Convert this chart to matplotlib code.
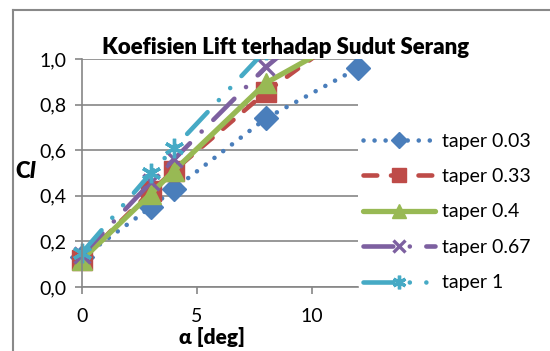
"""Lift coefficient vs angle of attack for several taper ratios."""

import matplotlib
matplotlib.use("Agg")
import matplotlib.pyplot as plt
from matplotlib.lines import Line2D
from matplotlib.ticker import FuncFormatter, MultipleLocator
from matplotlib.transforms import Bbox, TransformedBbox

plt.rcParams["font.family"] = ["Lato", "DejaVu Sans"]

# angle of attack [deg] and Cl for each taper ratio
alpha_003 = [0, 3, 4, 8, 12]
cl_003 = [0.13, 0.35, 0.43, 0.74, 0.96]

alpha_033 = [0, 3, 4, 8, 12]
cl_033 = [0.12, 0.42, 0.51, 0.855, 1.15]

alpha_04 = [0, 3, 4, 8, 12]
cl_04 = [0.12, 0.41, 0.51, 0.895, 1.12]

alpha_067 = [0, 3, 4, 8, 12]
cl_067 = [0.14, 0.46, 0.56, 0.965, 1.30]

alpha_1 = [0, 3, 4, 8]
cl_1 = [0.15, 0.50, 0.61, 1.04]

labels = ["taper 0.03", "taper 0.33", "taper 0.4", "taper 0.67", "taper 1"]

GRID = "#868686"

fig = plt.figure(figsize=(5.5, 3.51), dpi=100)
ax = fig.add_axes([82 / 550, 1 - 287 / 351, 276 / 550, 228 / 351])

LW = 3.3
series = [
    (alpha_003, cl_003, dict(color="#4A7EBB", marker="D", ms=12,
                             linestyle=(0, (0.01, 2.4)), dash_capstyle="round")),
    (alpha_033, cl_033, dict(color="#BE4B48", marker="s", ms=14,
                             linestyle=(0, (3.0, 3.0)), dash_capstyle="round")),
    (alpha_04, cl_04, dict(color="#98B954", marker="^", ms=15,
                           linestyle="-", solid_capstyle="round", lw=3.8)),
    (alpha_067, cl_067, dict(color="#7D60A0", marker="x", ms=12, mew=2.4,
                             linestyle=(0, (6.5, 3.6, 0.01, 3.6)), dash_capstyle="round")),
    (alpha_1, cl_1, dict(color="#46AAC5", marker=(6, 2, 0), ms=14, mew=2.4,
                         linestyle=(0, (6.5, 3.6, 0.01, 3.6, 0.01, 3.6)),
                         dash_capstyle="round")),
]

# let markers on the plot edges show fully, but cut lines at Cl = 1.0
clip = TransformedBbox(Bbox([[-0.06, -0.06], [1.06, 1.0]]), ax.transAxes)
handles = []
for (x, y, kw), lab in zip(series, labels):
    kw.setdefault("lw", LW)
    (ln,) = ax.plot(x, y, label=lab, **kw)
    ln.set_clip_box(clip)
    handles.append(ln)

ax.set_xlim(0, 12)
ax.set_ylim(0, 1.0)
ax.xaxis.set_major_locator(MultipleLocator(5))
ax.yaxis.set_major_locator(MultipleLocator(0.2))
ax.yaxis.set_major_formatter(FuncFormatter(lambda v, _: f"{v:.1f}".replace(".", ",")))
ax.grid(True, axis="y", color=GRID, lw=1.2)
ax.set_axisbelow(True)
for side in ("top", "right"):
    ax.spines[side].set_visible(False)
for side in ("left", "bottom"):
    ax.spines[side].set_color(GRID)
    ax.spines[side].set_linewidth(1.2)
ax.tick_params(axis="both", colors=GRID, labelcolor="black", labelsize=14,
               width=1.2, length=5)
ax.tick_params(axis="x", pad=10)
ax.tick_params(axis="y", pad=6)

fig.text(286 / 550, 1 - 47 / 351, "Koefisien Lift terhadap Sudut Serang",
         ha="center", va="center", fontsize=16, fontweight="heavy")
fig.text(212 / 550, 1 - 337 / 351, "α [deg]", ha="center", va="center",
         fontsize=15, fontweight="heavy")
fig.text(30 / 550, 1 - 172 / 351, "C", ha="right", va="center",
         fontsize=16, fontweight="heavy")
fig.text(30 / 550, 1 - 172 / 351, "l", ha="left", va="center",
         fontsize=16, fontweight="heavy", fontstyle="italic")

ax.legend(handles=handles, loc="center left", bbox_to_anchor=(363 / 550, 1 - 212 / 351),
          bbox_transform=fig.transFigure, frameon=False, fontsize=14,
          handlelength=3.7, handletextpad=0.35, labelspacing=0.95,
          borderpad=0, borderaxespad=0, numpoints=1, markerscale=0.7)

# outer chart frame, only the top and left edges fall inside the image
fig.add_artist(Line2D([13 / 550, 1], [1 - 10 / 351, 1 - 10 / 351],
                      transform=fig.transFigure, color="#898989", lw=1.5))
fig.add_artist(Line2D([13 / 550, 13 / 550], [0, 1 - 10 / 351],
                      transform=fig.transFigure, color="#898989", lw=1.5))

fig.savefig("out.png", dpi=100)
